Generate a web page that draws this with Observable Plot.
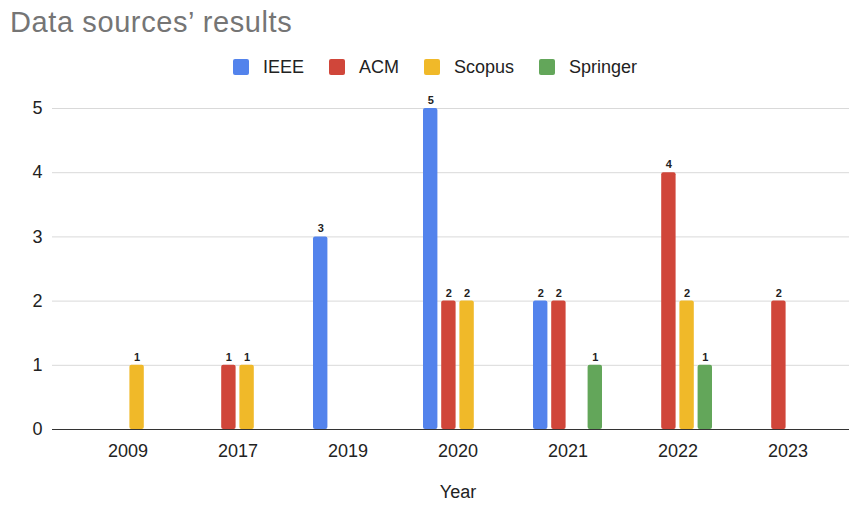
<!DOCTYPE html>
<html><head><meta charset="utf-8">
<script src="https://cdn.jsdelivr.net/npm/d3@7"></script>
<script src="https://cdn.jsdelivr.net/npm/@observablehq/plot@0.6"></script>
<style>
body{margin:0;background:#fff;font-family:"Liberation Sans",Arial,sans-serif;}
#wrap{position:relative;width:849px;height:508px;overflow:hidden;background:#fff;}
#title{position:absolute;left:10px;top:7.5px;font-size:29px;line-height:1;color:#757575;white-space:nowrap;letter-spacing:0.6px;}
#legend{position:absolute;left:233px;top:59px;height:16px;display:flex;align-items:center;font-size:18px;color:#222;white-space:nowrap;}
.item{display:flex;align-items:center;margin-right:25px;}
.sw{width:16px;height:16px;border-radius:2px;margin-right:14px;}
#chart{position:absolute;left:0;top:80px;}
</style></head><body>
<div id="wrap"><div id="title">Data sources’ results</div><div id="legend"></div><div id="chart"></div></div>
<script>
const years = ["2009","2017","2019","2020","2021","2022","2023"];
const sources = ["IEEE","ACM","Scopus","Springer"];
const colors = ["#5383ec","#d0463a","#f0b929","#63a65a"];
const ieee =     [0,0,3,5,2,0,0];
const acm =      [0,1,0,2,2,4,2];
const scopus =   [1,1,0,2,0,2,0];
const springer = [0,0,0,0,1,1,0];
const yTicks = [0,1,2,3,4,5];
const xLabel = "Year";

const series = [ieee, acm, scopus, springer];

const legend = document.getElementById("legend");
sources.forEach((s, j) => {
  const it = document.createElement("div"); it.className = "item";
  const sw = document.createElement("div"); sw.className = "sw"; sw.style.background = colors[j];
  const t = document.createElement("span"); t.textContent = s;
  it.appendChild(sw); it.appendChild(t); legend.appendChild(it);
});

// grouped bars: one mark per series, shifted within each year's band
const slot = 18.2, barW = 15, band = 85.6;
const inset = (band - barW) / 2;
const seriesMarks = [];
sources.forEach((s, j) => {
  const data = years.map((y, i) => ({year: y, source: s, value: series[j][i]})).filter(d => d.value > 0);
  const off = (j - 1.5) * slot;
  seriesMarks.push(Plot.barY(data, {x: "year", y: "value", fill: colors[j], dx: off, insetLeft: inset, insetRight: inset, rx: 2}));
  seriesMarks.push(Plot.text(data, {x: "year", y: "value", text: "value", dx: off, dy: -8, fontWeight: "bold", fontSize: 11, fill: "#222"}));
});

const plot = Plot.plot({
  width: 849, height: 428,
  marginTop: 28, marginBottom: 79, marginLeft: 52, marginRight: 0,
  x: {domain: years, paddingInner: 0.224, paddingOuter: 0.224, align: 0.63},
  y: {domain: [0, 5]},
  style: {fontFamily: "Liberation Sans, Arial, sans-serif", background: "transparent"},
  marks: [
    Plot.ruleY(yTicks.slice(1), {stroke: "#d9d9d9"}),
    ...seriesMarks,
    Plot.ruleY([0], {stroke: "#333"}),
    Plot.axisY(yTicks, {tickSize: 0, tickPadding: 10, fontSize: 18, color: "#222", label: null, tickFormat: "d"}),
    Plot.axisX({tickSize: 0, tickPadding: 15, fontSize: 18, color: "#222", label: null}),
    Plot.text([xLabel], {frameAnchor: "bottom", dx: 7, dy: 68, fontSize: 18, fill: "#222"})
  ]
});
document.getElementById("chart").appendChild(plot);
</script>
</body></html>
